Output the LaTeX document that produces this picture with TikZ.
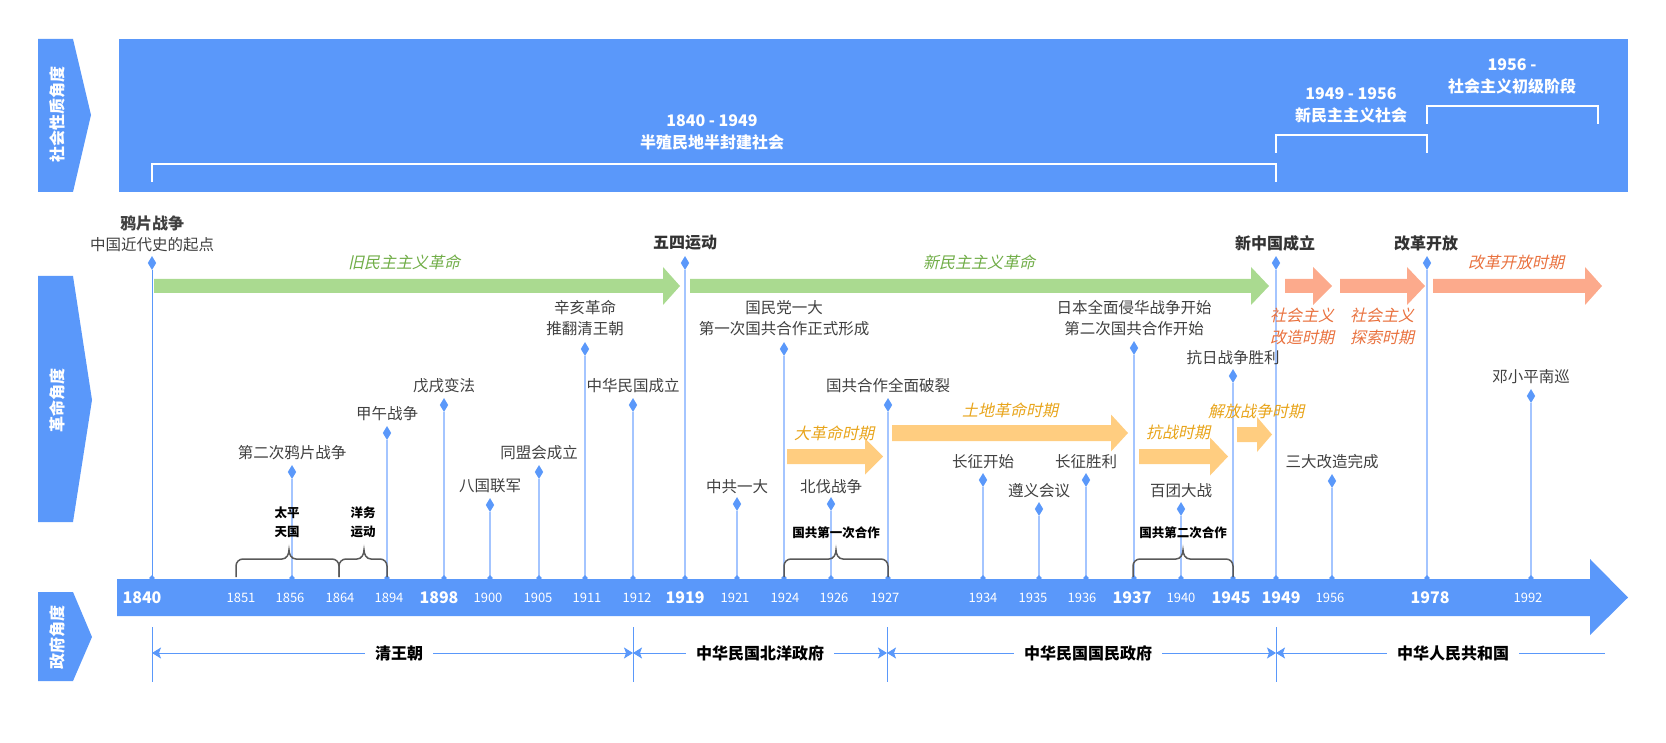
\documentclass[tikz,border=0pt]{standalone}
\usepackage{fontspec}
\setmainfont{Noto Sans CJK SC}
\newfontfamily\slfont{Noto Sans CJK SC}[FakeSlant=0.22]
\usetikzlibrary{shapes.geometric,arrows.meta}
\definecolor{mainblue}{RGB}{90,152,250}
\definecolor{stemblue}{RGB}{164,197,255}
\definecolor{garrow}{RGB}{170,218,144}
\definecolor{gtext}{RGB}{112,173,71}
\definecolor{sarrow}{RGB}{252,170,140}
\definecolor{stext}{RGB}{233,113,62}
\definecolor{oarrow}{RGB}{255,205,128}
\definecolor{otext}{RGB}{232,164,26}
\definecolor{darktext}{RGB}{64,64,64}
\definecolor{bracegray}{RGB}{89,89,89}
\newcommand\blockarrow[7]{% x1, xbase, xtip, yc, halfbar, halfhead, color
  \fill[#7] (#1,#4-#5) -- (#2,#4-#5) -- (#2,#4-#6) -- (#3,#4) -- (#2,#4+#6) -- (#2,#4+#5) -- (#1,#4+#5) -- cycle;}
\newcommand\curlybrace[3]{% x1, xm, x2
  \draw[bracestyle] (#1,577) -- (#1,566) to[out=90,in=180] (#1+7,559) -- (#2-7,559) to[out=0,in=270] (#2,550) to[out=270,in=180] (#2+7,559) -- (#3-7,559) to[out=0,in=90] (#3,566) -- (#3,577);}
\begin{document}
\begin{tikzpicture}[x=1pt,y=-1pt,
  tabtext/.style={text=white, font=\bfseries\fontsize{16}{16}\selectfont, rotate=90, inner sep=0pt},
  toplab/.style={text=white, font=\bfseries\fontsize{16}{22}\selectfont, align=center, inner sep=0pt},
  evt/.style={text=darktext, font=\fontsize{15.5}{21}\selectfont, align=center, inner sep=0pt},
  evtb/.style={text=darktext!80!black, font=\bfseries\fontsize{16}{21}\selectfont, align=center, inner sep=0pt},
  dmark/.style={diamond, fill=mainblue, inner sep=0pt, minimum width=8.5pt, minimum height=14pt},
  dsmall/.style={diamond, fill=mainblue, inner sep=0pt, minimum width=6pt, minimum height=6pt},
  stemline/.style={stemblue, line width=1.6pt},
  per/.style={font=\slfont\fontsize{16}{22}\selectfont, align=center, inner sep=0pt},
  yr/.style={text=white, font=\fontsize{13}{14}\selectfont, inner sep=0pt},
  yrb/.style={text=white, font=\bfseries\fontsize{16}{17}\selectfont, inner sep=0pt},
  brlab/.style={text=black, font=\bfseries\fontsize{12.5}{19}\selectfont, align=center, inner sep=0pt},
  gov/.style={text=black, font=\bfseries\fontsize{16}{18}\selectfont, fill=white, inner xsep=10pt, inner ysep=2pt},
  dimline/.style={mainblue, line width=1pt},
  tick/.style={mainblue, line width=0.9pt},
  bracestyle/.style={bracegray, line width=1.5pt},
  bracket/.style={white, line width=1.6pt}
]
\useasboundingbox (0,0) rectangle (1666,743);
% ---------- tabs ----------
\fill[mainblue] (38,39) -- (73,39) -- (91,115) -- (73,192) -- (38,192) -- cycle;
\node[tabtext] (tab1) at (57,115) {社会性质角度};
\fill[mainblue] (38,276) -- (73,276) -- (92,400) -- (73,522) -- (38,522) -- cycle;
\node[tabtext] (tab2) at (57,400) {革命角度};
\fill[mainblue] (38,592) -- (73,592) -- (92,637) -- (73,681) -- (38,681) -- cycle;
\node[tabtext] (tab3) at (57,637) {政府角度};
% ---------- top band ----------
\fill[mainblue] (119,39) rectangle (1628,192);
\coordinate (k1a) at (152,182); \coordinate (k1b) at (152,164);
\coordinate (k1c) at (1276,164); \coordinate (k1d) at (1276,182);
\draw[bracket] (k1a) -- (k1b) -- (k1c) -- (k1d);
\coordinate (k2a) at (1276,153); \coordinate (k2b) at (1276,135);
\coordinate (k2c) at (1427,135); \coordinate (k2d) at (1427,153);
\draw[bracket] (k2a) -- (k2b) -- (k2c) -- (k2d);
\coordinate (k3a) at (1427,124); \coordinate (k3b) at (1427,106);
\coordinate (k3c) at (1598,106); \coordinate (k3d) at (1598,124);
\draw[bracket] (k3a) -- (k3b) -- (k3c) -- (k3d);
\node[toplab] (s1) at (712,132) {1840 - 1949\\半殖民地半封建社会};
\node[toplab] (s2) at (1351,105) {1949 - 1956\\新民主主义社会};
\node[toplab] (s3) at (1512,76) {1956 -\\社会主义初级阶段};
% ---------- timeline bar ----------
\fill[mainblue] (117,579) -- (1590,579) -- (1590,559) -- (1628,597.5) -- (1590,635) -- (1590,616) -- (117,616) -- cycle;
% ---------- stems ----------
\foreach \n/\x/\yd in {1856/292/472, 1894/387/433, 1898/444/405, 1900/490/505,
  1905/539/472, 1911/585/349, 1912/633/405, 1919/685/263, 1921/737/504, 1924/784/349,
  1926/831/504, 1927/888/405, 1934/983/480, 1935/1039/509, 1936/1086/480, 1937/1134/348,
  1940/1181/509, 1945/1233/376, 1949/1276/263, 1956/1332/481, 1978/1427/263, 1992/1531/396} {
  \coordinate (b\n) at (\x,579);
  \node[dmark] (d\n) at (\x,\yd) {};
  \draw[stemline] (d\n) -- (b\n);
  \node[dsmall] (e\n) at (\x,578) {};
}
\coordinate (b1840) at (152,579);
\node[dmark] (d1840) at (152,263) {};
\draw[mainblue, line width=1pt] (d1840) -- (b1840);
\node[dsmall] (e1840) at (152,578) {};
% ---------- block arrows ----------
\blockarrow{154}{663}{680}{286}{7}{19}{garrow}
\blockarrow{690}{1251}{1269}{286}{7}{19}{garrow}
\blockarrow{1285}{1313}{1332}{286}{7}{19}{sarrow}
\blockarrow{1340}{1407}{1425}{286}{7}{19}{sarrow}
\blockarrow{1433}{1585}{1602}{286}{7}{19}{sarrow}
\blockarrow{787}{865}{883}{456.5}{7.5}{18}{oarrow}
\blockarrow{892}{1111}{1128}{433}{8}{18.5}{oarrow}
\blockarrow{1139}{1210}{1228}{456.5}{7.5}{19}{oarrow}
\blockarrow{1237}{1257}{1272}{434.5}{7.5}{17.5}{oarrow}
% ---------- period labels ----------
\node[per, text=gtext] (p1) at (404,262) {旧民主主义革命};
\node[per, text=gtext] (p2) at (979,262) {新民主主义革命};
\node[per, text=stext] (p3) at (1516,262) {改革开放时期};
\node[per, text=stext] (p4) at (1302,326) {社会主义\\改造时期};
\node[per, text=stext] (p5) at (1382,326) {社会主义\\探索时期};
\node[per, text=otext] (p6) at (834,433) {大革命时期};
\node[per, text=otext] (p7) at (1010,410) {土地革命时期};
\node[per, text=otext] (p8) at (1178,432) {抗战时期};
\node[per, text=otext] (p9) at (1256,411) {解放战争时期};
% ---------- event labels ----------
\node[evt] (l1840) at (152,234) {{\bfseries\fontsize{16}{21}\selectfont 鸦片战争}\\中国近代史的起点};
\node[evt] (l1856) at (292,453) {第二次鸦片战争};
\node[evt] (l1894) at (387,414) {甲午战争};
\node[evt] (l1898) at (444,386) {戊戌变法};
\node[evt] (l1900) at (490,486) {八国联军};
\node[evt] (l1905) at (539,453) {同盟会成立};
\node[evt] (l1911) at (585,318.5) {辛亥革命\\推翻清王朝};
\node[evt] (l1912) at (633,386) {中华民国成立};
\node[evtb] (l1919) at (685,243) {五四运动};
\node[evt] (l1921) at (737,487) {中共一大};
\node[evt] (l1924) at (784,318.5) {国民党一大\\第一次国共合作正式形成};
\node[evt] (l1926) at (831,487) {北伐战争};
\node[evt] (l1927) at (888,386) {国共合作全面破裂};
\node[evt] (l1934) at (983,462) {长征开始};
\node[evt] (l1935) at (1039,491) {遵义会议};
\node[evt] (l1936) at (1086,462) {长征胜利};
\node[evt] (l1937) at (1134,318.5) {日本全面侵华战争开始\\第二次国共合作开始};
\node[evt] (l1940) at (1181,491) {百团大战};
\node[evt] (l1945) at (1233,358) {抗日战争胜利};
\node[evtb] (l1949) at (1275,243) {新中国成立};
\node[evt] (l1956) at (1332,462) {三大改造完成};
\node[evtb] (l1978) at (1426,243) {改革开放};
\node[evt] (l1992) at (1531,377) {邓小平南巡};
% ---------- braces ----------
\curlybrace{236}{289}{339}
\curlybrace{339}{364}{387}
\curlybrace{784}{836}{888}
\curlybrace{1133}{1183}{1233}
\node[brlab] (r1) at (287,522.5) {太平\\天国};
\node[brlab] (r2) at (363,522.5) {洋务\\运动};
\node[brlab] (r3) at (836,533) {国共第一次合作};
\node[brlab] (r4) at (1183,533) {国共第二次合作};
% ---------- year labels ----------
\node[yrb] (y1840) at (142,598) {1840};
\foreach \n/\x in {1851/241, 1856/290, 1864/340, 1894/389, 1900/488, 1905/538, 1911/587,
  1912/637, 1921/735, 1924/785, 1926/834, 1927/885, 1934/983, 1935/1033, 1936/1082,
  1940/1181, 1956/1330, 1992/1528} {
  \node[yr] (y\n) at (\x,598) {\n};
}
\foreach \n/\x in {1898/439, 1919/685, 1937/1132, 1945/1231, 1949/1281, 1978/1430} {
  \node[yrb] (y\n) at (\x,598) {\n};
}
% ---------- government periods ----------
\foreach \i/\x in {1/152, 2/633, 3/887, 4/1276} {
  \coordinate (ga\i) at (\x,627);
  \coordinate (gb\i) at (\x,682);
  \draw[tick] (ga\i) -- (gb\i);
  \coordinate (q\i) at (\x,653);
}
\coordinate (q5) at (1605,653);
\draw[dimline, {Stealth[length=9pt,width=11pt,inset=2pt]}-{Stealth[length=9pt,width=11pt,inset=2pt]}] (q1) -- (q2);
\draw[dimline, {Stealth[length=9pt,width=11pt,inset=2pt]}-{Stealth[length=9pt,width=11pt,inset=2pt]}] (q2) -- (q3);
\draw[dimline, {Stealth[length=9pt,width=11pt,inset=2pt]}-{Stealth[length=9pt,width=11pt,inset=2pt]}] (q3) -- (q4);
\draw[dimline, {Stealth[length=9pt,width=11pt,inset=2pt]}-] (q4) -- (q5);
\node[gov] (g1) at (399,653) {清王朝};
\node[gov] (g2) at (760,653) {中华民国北洋政府};
\node[gov] (g3) at (1088,653) {中华民国国民政府};
\node[gov] (g4) at (1453,653) {中华人民共和国};
\end{tikzpicture}
\end{document}
